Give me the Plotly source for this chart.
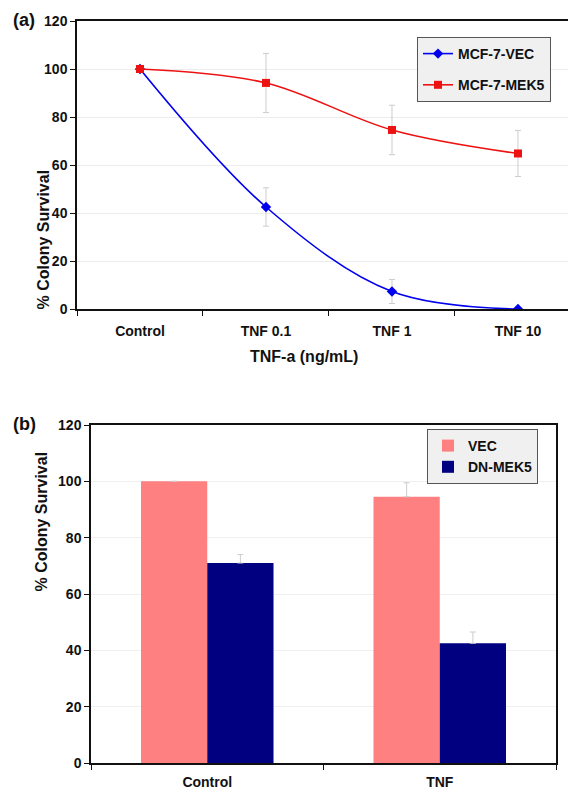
import plotly.graph_objects as go

# ---- data ----
conc_labels = ["Control", "TNF 0.1", "TNF 1", "TNF 10"]
vec_vals = [100, 42.5, 7.3, 0]
vec_err = [0, 8, 5, 0]
mek5_vals = [100, 94.2, 74.6, 64.8]
mek5_err = [0, 12.3, 10.3, 9.6]

bar_cats = ["Control", "TNF"]
bar_vec = [100, 94.5]
bar_vec_err = [0, 5]
bar_dn = [71, 42.5]
bar_dn_err = [3, 4]

W, H = 568, 791
FONT = "Liberation Sans, Arial, sans-serif"

def px(x):
    return x / W

def py(y):
    return 1 - y / H

fig = go.Figure()

fig.add_trace(go.Scatter(
    x=conc_labels, y=vec_vals, name="MCF-7-VEC", mode="lines+markers",
    line=dict(color="#0000ee", width=1.6, shape="spline", smoothing=1.0),
    marker=dict(symbol="diamond", size=8, color="#0000ee"),
    error_y=dict(type="data", array=vec_err, color="#cccccc", thickness=1, width=3),
    xaxis="x", yaxis="y", legend="legend", legendgroup="a",
))
fig.add_trace(go.Scatter(
    x=conc_labels, y=mek5_vals, name="MCF-7-MEK5", mode="lines+markers",
    line=dict(color="#ee1111", width=1.6, shape="spline", smoothing=1.0),
    marker=dict(symbol="square", size=8, color="#ee1111"),
    error_y=dict(type="data", array=mek5_err, color="#cccccc", thickness=1, width=3),
    xaxis="x", yaxis="y", legend="legend", legendgroup="b",
))

fig.add_trace(go.Bar(
    x=bar_cats, y=bar_vec, name="VEC", marker=dict(color="#ff8080", line=dict(width=0)),
    error_y=dict(type="data", array=bar_vec_err, arrayminus=[0, 0], symmetric=False,
                 color="#cccccc", thickness=1, width=3),
    xaxis="x2", yaxis="y2", legend="legend2",
))
fig.add_trace(go.Bar(
    x=bar_cats, y=bar_dn, name="DN-MEK5", marker=dict(color="#000080", line=dict(width=0)),
    error_y=dict(type="data", array=bar_dn_err, arrayminus=[0, 0], symmetric=False,
                 color="#cccccc", thickness=1, width=3),
    xaxis="x2", yaxis="y2", legend="legend2",
))

tickfont = dict(family=FONT, size=14, color="#111", weight="bold")
axis_common = dict(showline=True, linecolor="#111", linewidth=1.5, ticks="outside",
                   ticklen=5, tickcolor="#111", tickfont=tickfont, zeroline=False,
                   automargin=False)

fig.update_layout(
    width=W, height=H, margin=dict(l=0, r=0, t=0, b=0, pad=0), autosize=False,
    paper_bgcolor="white", plot_bgcolor="white", showlegend=True,
    barmode="group", bargap=0.43, bargroupgap=0,
    xaxis=dict(domain=[px(77), 1.0], anchor="y", type="category",
               categoryorder="array", categoryarray=conc_labels,
               range=[-0.5, 3.397], tickson="boundaries", mirror=True,
               showgrid=False, ticklabelstandoff=8, **axis_common),
    yaxis=dict(domain=[py(309), py(21)], anchor="x", range=[0, 120], dtick=20,
               showgrid=True, gridcolor="#ececec", gridwidth=1, **axis_common),
    xaxis2=dict(domain=[px(91), px(556)], anchor="y2", type="category",
                range=[-0.5, 1.5], tickson="boundaries", mirror=True,
                showgrid=False, ticklabelstandoff=5, **axis_common),
    yaxis2=dict(domain=[py(763), py(425)], anchor="x2", range=[0, 120], dtick=20,
                mirror=True, showgrid=True, gridcolor="#f0f0f0", gridwidth=1, **axis_common),
    legend=dict(x=px(417), y=py(37), xanchor="left", yanchor="top",
                bgcolor="#f0f0f0", bordercolor="#555", borderwidth=1,
                font=dict(family=FONT, size=14, color="#111", weight="bold"),
                tracegroupgap=10, itemwidth=30),
    legend2=dict(x=px(427), y=py(429), xanchor="left", yanchor="top",
                 bgcolor="#f0f0f0", bordercolor="#555", borderwidth=1,
                 font=dict(family=FONT, size=14, color="#111", weight="bold"),
                 itemwidth=30),
)

ann_font = dict(family=FONT, size=16, color="#111", weight="bold")
fig.add_annotation(text="(a)", x=px(11), y=py(20), xref="paper", yref="paper",
                   xanchor="left", yanchor="middle", showarrow=False,
                   font=dict(family=FONT, size=18, color="#111", weight="bold"))
fig.add_annotation(text="(b)", x=px(11), y=py(424), xref="paper", yref="paper",
                   xanchor="left", yanchor="middle", showarrow=False,
                   font=dict(family=FONT, size=18, color="#111", weight="bold"))
fig.add_annotation(text="% Colony Survival", x=px(32), y=py(168), xref="paper", yref="paper",
                   textangle=-90, showarrow=False, font=ann_font)
fig.add_annotation(text="TNF-a (ng/mL)", x=px(304), y=py(356), xref="paper", yref="paper",
                   showarrow=False, font=ann_font)
fig.add_annotation(text="% Colony Survival", x=px(30), y=py(594), xref="paper", yref="paper",
                   textangle=-90, showarrow=False, font=ann_font)

fig.write_html("out.html", config={"displayModeBar": False},
               post_script="document.body.style.margin='0';document.body.style.padding='0';")
